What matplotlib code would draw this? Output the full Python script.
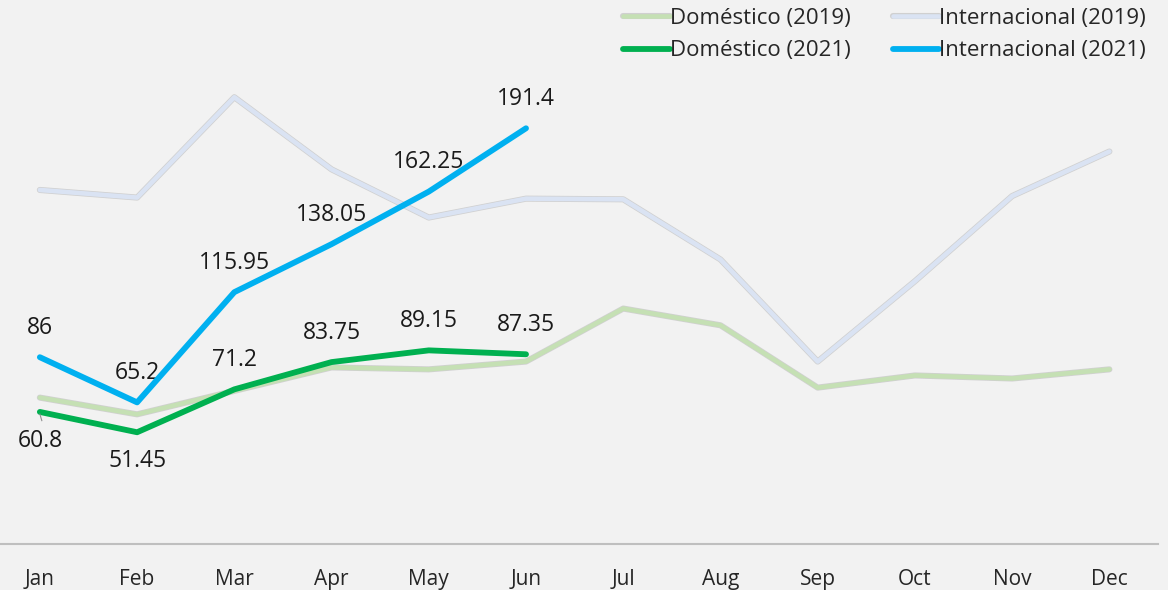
import matplotlib
matplotlib.use("Agg")
import matplotlib.pyplot as plt
import matplotlib.patheffects as pe

months = ["Jan", "Feb", "Mar", "Apr", "May", "Jun",
          "Jul", "Aug", "Sep", "Oct", "Nov", "Dec"]

dom_2019 = [67.4, 59.7, 70.5, 81.3, 80.4, 84.0, 108.4, 100.7, 72.0, 77.6, 76.2, 80.4]
int_2019 = [163.0, 159.5, 205.7, 172.5, 150.3, 159.0, 158.7, 131.0, 84.0, 121.0, 160.2, 180.7]
dom_2021 = [60.8, 51.45, 71.2, 83.75, 89.15, 87.35]
int_2021 = [86, 65.2, 115.95, 138.05, 162.25, 191.4]

BG = "#f2f2f2"
FONT = "Open Sans"

fig = plt.figure(figsize=(11.68, 5.90), dpi=100, facecolor=BG)
ax = fig.add_axes([0.0, 46 / 590, 1158 / 1168, 543 / 590])
ax.set_facecolor(BG)

x19 = list(range(len(months)))
x21 = list(range(len(dom_2021)))

edge = [pe.Stroke(linewidth=4.4, foreground="#a8a8a8", alpha=0.45), pe.Normal()]
ax.plot(x19, dom_2019, color="#c5e0b4", lw=3.3, solid_capstyle="round",
        path_effects=edge, label="Doméstico (2019)", zorder=2)
ax.plot(x19, int_2019, color="#dae3f3", lw=3.3, solid_capstyle="round",
        path_effects=edge, label="Internacional (2019)", zorder=2)
ax.plot(x21, dom_2021, color="#00b050", lw=4.2, solid_capstyle="round",
        label="Doméstico (2021)", zorder=3)
ax.plot(x21, int_2021, color="#00b0f0", lw=4.2, solid_capstyle="round",
        label="Internacional (2021)", zorder=4)

# data labels
for i, v in enumerate(int_2021):
    ax.annotate(f"{v:g}", (i, v), xytext=(0, 21), textcoords="offset points",
                ha="center", va="center", fontsize=16.5, family=FONT, color="#1a1a1a")
for i, v in enumerate(dom_2021):
    dy = -21 if i < 2 else 21
    ax.annotate(f"{v:g}", (i, v), xytext=(0, dy), textcoords="offset points",
                ha="center", va="center", fontsize=16.5, family=FONT, color="#1a1a1a")
# small leader line on the first label
ax.plot([0.0, 0.02], [dom_2021[0] - 1, dom_2021[0] - 4], color="#909090", lw=0.8, zorder=5)

ax.set_xlim(-0.41, 11.5)
ax.set_ylim(0, 250)
ax.set_xticks(x19)
ax.set_xticklabels(months, fontsize=15, family=FONT, color="#262626")
ax.tick_params(axis="x", length=0, pad=18)
ax.set_yticks([])
for s in ["top", "right", "left"]:
    ax.spines[s].set_visible(False)
ax.spines["bottom"].set_color("#bfbfbf")
ax.spines["bottom"].set_linewidth(1.5)

h, l = ax.get_legend_handles_labels()
order = [0, 2, 1, 3]
leg = fig.legend([h[k] for k in order], [l[k] for k in order], ncol=2,
                 loc="upper right", bbox_to_anchor=(1166 / 1168, 1.02),
                 frameon=False, handlelength=2.1,
                 handletextpad=0.0, columnspacing=1.9, labelspacing=0.5,
                 prop={"family": FONT, "size": 16})
for t in leg.get_texts():
    t.set_color("#262626")

fig.savefig("out.png", dpi=100, facecolor=BG)
